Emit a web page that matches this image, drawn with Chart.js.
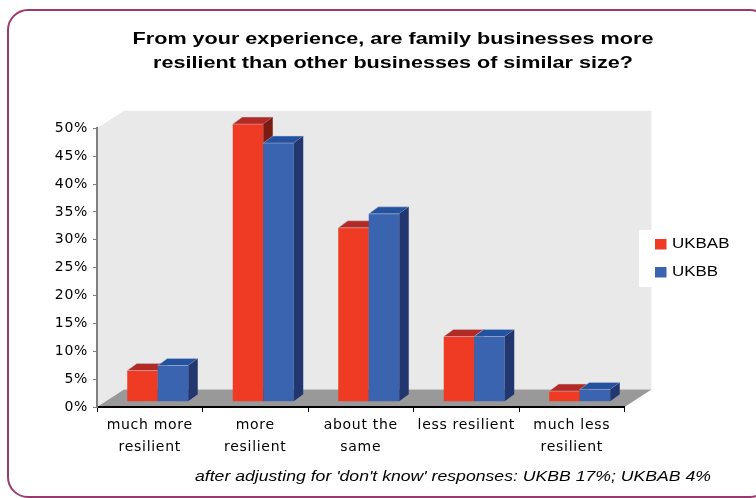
<!DOCTYPE html>
<html>
<head>
<meta charset="utf-8">
<script src="https://cdn.jsdelivr.net/npm/chart.js@4.4.1/dist/chart.umd.min.js"></script>
<style>
  body { margin: 0; background: #fff; }
  canvas { display: block; }
</style>
</head>
<body>
<canvas id="myChart" width="756" height="498"></canvas>
<script>
const categories = [['much more', 'resilient'], ['more', 'resilient'], ['about the', 'same'], 'less resilient', ['much less', 'resilient']];
const ukbabValues = [5.6, 49.8, 31.2, 11.7, 1.9];
const ukbbValues = [6.5, 46.4, 33.7, 11.7, 2.2];
const seriesNames = ['UKBAB', 'UKBB'];
const yMin = 0, yMax = 50, yStep = 5;
const titleLines = ['From your experience, are family businesses more', 'resilient than other businesses of similar size?'];
const footnote = "after adjusting for 'don't know' responses: UKBB 17%; UKBAB 4%";

const fronts = ['#ef3b23', '#3a64b0'];
const tops = ['#b12a26', '#2252a0'];
const sides = ['#7c1b14', '#22366f'];

// fake 3d offsets (excel style)
const WALL_DX = 27, WALL_DY = -17.5;
const SHIFT_X = 8, SHIFT_Y = -5.3;
const BAR_DX = 9.5, BAR_DY = -7;

function poly(ctx, pts) {
  ctx.beginPath();
  ctx.moveTo(pts[0][0], pts[0][1]);
  for (let i = 1; i < pts.length; i++) ctx.lineTo(pts[i][0], pts[i][1]);
  ctx.closePath();
  ctx.fill();
}

// the original text is a bit stretched sideways
function wideText(ctx, text, x, y, sx) {
  ctx.save();
  ctx.translate(x, y);
  ctx.scale(sx, 1);
  ctx.fillText(text, 0, 0);
  ctx.restore();
}

const backdrop = {
  id: 'backdrop',
  beforeDraw(chart) {
    const ctx = chart.ctx, a = chart.chartArea;
    ctx.letterSpacing = '0.7px';
    ctx.save();
    // frame
    ctx.strokeStyle = '#9b3b6d';
    ctx.lineWidth = 2;
    ctx.beginPath();
    ctx.roundRect(8, 10, 762, 487, 20);
    ctx.stroke();
    // side + back wall
    ctx.fillStyle = '#e9e9e9';
    poly(ctx, [[a.left, a.bottom], [a.left, a.top], [a.left + WALL_DX, a.top + WALL_DY],
      [a.right + WALL_DX, a.top + WALL_DY], [a.right + WALL_DX, a.bottom + WALL_DY], [a.left + WALL_DX, a.bottom + WALL_DY]]);
    // floor
    ctx.fillStyle = '#999999';
    poly(ctx, [[a.left, a.bottom], [a.right, a.bottom], [a.right + WALL_DX, a.bottom + WALL_DY], [a.left + WALL_DX, a.bottom + WALL_DY]]);
    ctx.restore();
  },
  beforeDatasetDraw() {
    return false;
  },
  afterDatasetsDraw(chart) {
    const ctx = chart.ctx;
    const metas = chart.data.datasets.map((d, i) => chart.getDatasetMeta(i));
    ctx.save();
    ctx.translate(SHIFT_X, SHIFT_Y);
    for (let j = 0; j < categories.length; j++) {
      metas.forEach((meta, i) => {
        const bar = meta.data[j];
        const l = bar.x - bar.width / 2, r = bar.x + bar.width / 2, t = bar.y, b = bar.base;
        bar.draw(ctx);
        ctx.fillStyle = tops[i];
        poly(ctx, [[l, t], [r, t], [r + BAR_DX, t + BAR_DY], [l + BAR_DX, t + BAR_DY]]);
        ctx.strokeStyle = 'rgba(200,200,210,0.6)';
        ctx.lineWidth = 0.8;
        ctx.stroke();
        ctx.fillStyle = sides[i];
        poly(ctx, [[r, t], [r + BAR_DX, t + BAR_DY], [r + BAR_DX, b + BAR_DY], [r, b]]);
      });
    }
    ctx.restore();
  },
  afterDraw(chart) {
    const ctx = chart.ctx;
    ctx.save();
    ctx.letterSpacing = '0px';
    // title
    ctx.fillStyle = '#000';
    ctx.textAlign = 'center';
    ctx.textBaseline = 'alphabetic';
    ctx.font = 'bold 17px "Liberation Sans"';
    wideText(ctx, titleLines[0], 393, 44, 1.27);
    wideText(ctx, titleLines[1], 393, 68, 1.27);
    // footnote
    ctx.font = 'italic 14px "Liberation Sans"';
    wideText(ctx, footnote, 453, 481, 1.26);
    // legend
    ctx.fillStyle = '#fff';
    ctx.fillRect(639, 230, 117, 57);
    ctx.textAlign = 'left';
    ctx.textBaseline = 'middle';
    ctx.font = '14px "Liberation Sans"';
    chart.data.datasets.forEach((ds, i) => {
      const y = 244 + i * 28;
      ctx.fillStyle = ds.backgroundColor;
      ctx.fillRect(655, y - 5, 11.5, 10.5);
      ctx.fillStyle = '#000';
      wideText(ctx, ds.label, 672, y + 0.5, 1.21);
    });
    ctx.restore();
  }
};

new Chart('myChart', {
  type: 'bar',
  data: {
    labels: categories,
    datasets: [
      { label: seriesNames[0], data: ukbabValues, backgroundColor: fronts[0] },
      { label: seriesNames[1], data: ukbbValues, backgroundColor: fronts[1] }
    ]
  },
  options: {
    responsive: false,
    devicePixelRatio: 1,
    animation: false,
    layout: { padding: { top: 128.3, right: 131.5, left: 8, bottom: 0 } },
    datasets: { bar: { categoryPercentage: 0.578, barPercentage: 1, borderWidth: 0 } },
    plugins: { legend: { display: false }, title: { display: false }, tooltip: { enabled: false } },
    scales: {
      x: {
        afterFit: s => { s.height = 91; },
        grid: { offset: true, drawOnChartArea: false, tickLength: 5, color: '#000', lineWidth: 1 },
        border: { color: '#000', width: 2 },
        ticks: { color: '#000', font: { family: 'DejaVu Sans', size: 14, lineHeight: 1.57 }, padding: 2, maxRotation: 0, autoSkip: false }
      },
      y: {
        min: yMin, max: yMax,
        afterFit: s => { s.width = 89; },
        grid: { drawOnChartArea: false, tickLength: 4, color: '#808080' },
        border: { color: '#808080', width: 2 },
        ticks: { stepSize: yStep, color: '#000', padding: 5, font: { family: 'DejaVu Sans', size: 14 }, callback: v => v + '%' }
      }
    }
  },
  plugins: [backdrop]
});
</script>
</body>
</html>
